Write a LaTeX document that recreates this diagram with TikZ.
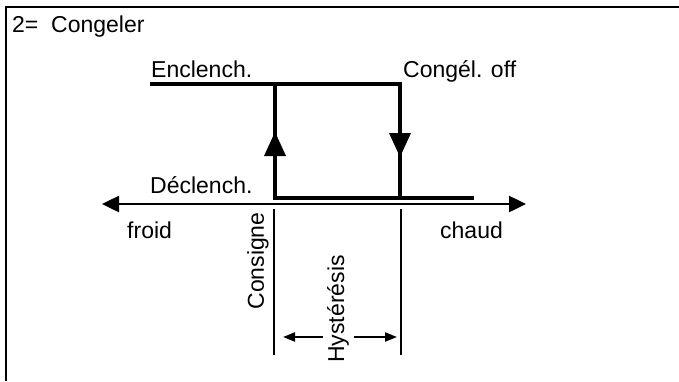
\documentclass[tikz,border=0pt]{standalone}
\usepackage{fontspec}
\setmainfont{Liberation Sans}
\usetikzlibrary{arrows.meta}
\begin{document}
\begin{tikzpicture}[x=1pt,y=-1pt,
  lbl/.style={inner sep=0pt,font=\fontsize{23}{27}\selectfont},
  loop/.style={line width=4pt},
  axis/.style={line width=2.5pt,{Triangle[length=17pt,width=16pt]}-{Triangle[length=17pt,width=16pt]}},
  tick/.style={line width=2pt},
  dim/.style={line width=2pt,-{Triangle[length=12pt,width=9pt]}}]
\useasboundingbox (0,0) rectangle (679,381);
% frame
\draw[line width=2.2pt] (6,381) -- (6,7) -- (679,7);
% labels
\node[lbl,anchor=base west] (title) at (12,32) {2=\ \ Congeler};
\node[lbl,anchor=base west] (on) at (151,77) {Enclench.};
\node[lbl,anchor=base west] (off) at (403,77) {Congél. off};
\node[lbl,anchor=base west] (dec) at (150,193) {Déclench.};
\node[lbl,anchor=base west] (froid) at (127,238) {froid};
\node[lbl,anchor=base west] (chaud) at (440,238) {chaud};
\node[lbl,rotate=90] (cons) at (258,261) {Consigne};
\node[lbl,rotate=90] (hyst) at (338,309) {Hystérésis};
% hysteresis loop
\coordinate (a) at (150,84);
\coordinate (b) at (275,84);
\coordinate (c) at (400,84);
\coordinate (d) at (275,198);
\coordinate (e) at (400,198);
\coordinate (f) at (474,198);
\draw[loop,line join=miter] (a) -- (c) -- (e);
\draw[loop,line join=miter] (b) -- (d) -- (f);
\fill (275,132) -- (264,156) -- (286,156) -- cycle;
\fill (400,157) -- (389,133) -- (411,133) -- cycle;
% axis
\coordinate (xl) at (102,204);
\coordinate (xr) at (526,204);
\draw[axis] (xl) -- (xr);
% ticks
\coordinate (t1a) at (274,209);
\coordinate (t1b) at (274,355);
\coordinate (t2a) at (401,209);
\coordinate (t2b) at (401,355);
\draw[tick] (t1a) -- (t1b);
\draw[tick] (t2a) -- (t2b);
% hysteresis dimension arrows
\coordinate (h1) at (323,337);
\coordinate (h2) at (283,337);
\coordinate (h3) at (354,337);
\coordinate (h4) at (397,337);
\draw[dim] (h1) -- (h2);
\draw[dim] (h3) -- (h4);
\end{tikzpicture}
\end{document}
